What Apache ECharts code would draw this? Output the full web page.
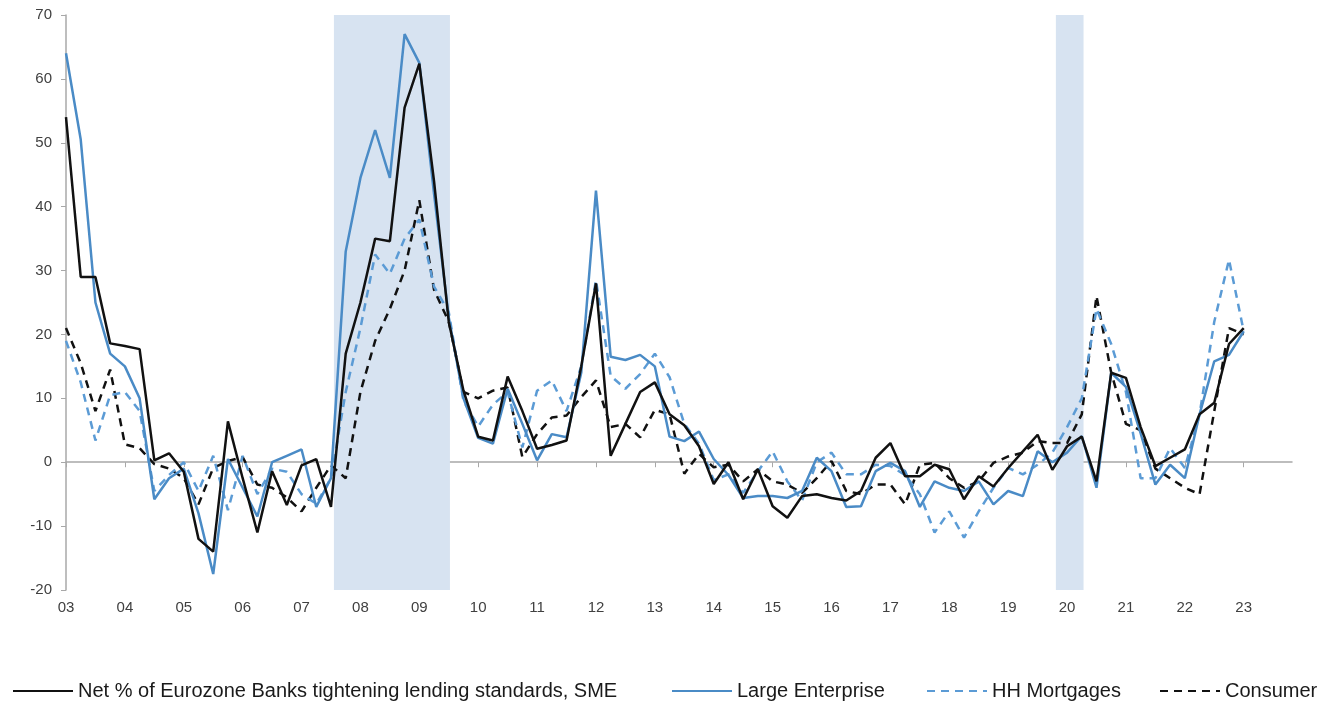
<!DOCTYPE html>
<html>
<head>
<meta charset="utf-8">
<script src="https://cdn.jsdelivr.net/npm/echarts@6/dist/echarts.min.js"></script>
<style>
  html, body { margin: 0; padding: 0; background: #fff; }
  #chart { width: 1328px; height: 705px; }
</style>
</head>
<body>
<div id="chart"></div>
<script>
// Quarterly survey results, 2003 Q1 onwards (net % of banks tightening)
const startYear = 2003;

const sme = [
  54, 29, 29, 18.6, 18.2, 17.7, 0.3, 1.4, -1.5, -12,
  -14, 6.4, -2.5, -11, -1.4, -6.7, -0.5, 0.5, -7, 17,
  25, 35, 34.6, 55.5, 62.4, 44, 22, 11.2, 4, 3.4,
  13.4, 8, 2.1, 2.7, 3.4, 15, 28, 1, 6, 11,
  12.5, 7.5, 5.8, 2.5, -3.4, 0, -5.8, -1.1, -6.9, -8.7,
  -5.3, -5, -5.6, -6, -4.5, 0.7, 3, -2.2, -2.2, -0.4,
  -1.1, -5.8, -2.2, -3.8, -0.9, 1.7, 4.3, -1.2, 2.5, 4,
  -3, 14, 13.2, 5.5, -0.6, 0.7, 2, 7.5, 9.3, 18.5,
  21
];

const largeEnterprise = [
  64, 50.5, 25, 17, 15, 10, -5.8, -2.5, -1, -8,
  -17.5, 0.5, -4, -8.5, 0, 1, 2, -7, -2.5, 33,
  44.5, 52, 44.5, 67, 62.5, 42, 22.7, 10, 3.8, 2.9,
  11.5, 6, 0.3, 4.4, 3.9, 14, 42.5, 16.5, 16, 16.8,
  15, 4, 3.3, 4.8, 0.5, -2, -5.6, -5.3, -5.3, -5.6,
  -4.5, 0.7, -1.4, -7, -6.9, -1.4, -0.1, -1.4, -7, -3,
  -4, -4.5, -3, -6.6, -4.5, -5.3, 1.7, 0, 1.5, 4.1,
  -4, 14, 11.8, 4.5, -3.5, -0.4, -2.5, 7.5, 15.8, 16.8,
  20.5
];

const hhMortgages = [
  19, 12.5, 3.4, 10.5, 11, 8, -4.5, -2, 0, -4.5,
  1, -7.5, 1, -5, -1, -1.5, -5, -6.5, -2.5, 11,
  21, 32.5, 29.5, 35, 38, 27.5, 23.5, 9.6, 5.6, 9,
  11, 2.3, 11.2, 12.8, 8, 15, 28.5, 13.5, 11.5, 13.8,
  17, 13.3, 6, 2.9, -2.8, -1.9, -4.8, -1.4, 1.7, -3,
  -6, 0, 1.5, -1.9, -1.9, -0.4, -0.6, -2, -5, -11,
  -7.7, -11.8, -7.7, -4, -0.9, -1.9, -0.4, 1.5, 5.5, 10,
  24, 18.5, 11, -2.5, -2.5, 2.2, -0.9, 7.5, 22, 31.7,
  20.5
];

const consumer = [
  21, 15.5, 8, 14.5, 2.8, 2.2, -0.3, -1, -2.5, -6.6,
  -0.9, 0.2, 0.8, -3.5, -4, -5.5, -7.7, -4, -0.5, -2.5,
  11, 19, 24, 30, 41, 27, 22, 11, 10, 11.2,
  11.7, 0.8, 4.4, 7, 7.3, 10.2, 12.8, 5.5, 6, 3.9,
  8.2, 7.5, -1.8, 1.3, -0.8, -0.4, -3, -1.1, -3, -3.5,
  -4.8, -2.5, 0.2, -4.5, -5, -3.5, -3.5, -6.6, -0.4, -0.1,
  -2.5, -4, -3, -0.1, 0.9, 1.5, 3.3, 3, 3, 7.5,
  26, 14, 6, 5, -1, -2.5, -4, -5, 8, 21,
  20
];

// Year ticks along the time axis and their two-digit labels
const tickYears = [2003, 2004, 2005, 2006, 2007, 2008, 2009, 2010, 2011, 2012, 2013,
                   2014, 2015, 2016, 2017, 2018, 2019, 2020, 2021, 2022, 2023];
const tickLabels = ['03', '04', '05', '06', '07', '08', '09', '10', '11', '12', '13',
                    '14', '15', '16', '17', '18', '19', '20', '21', '22', '23'];

// Shaded periods (start, end) in fractional years
const shadedPeriods = [[2007.55, 2009.52], [2019.81, 2020.28]];

const seriesNames = [
  'Net % of Eurozone Banks tightening lending standards, SME',
  'Large Enterprise',
  'HH Mortgages',
  'Consumer'
];

function toPoints(values) {
  return values.map((v, i) => [startYear + i / 4, v]);
}

const BLACK = '#111111';
const BLUE = '#4a8bc6';
const LIGHT_BLUE = '#5b9bd5';

const chart = echarts.init(document.getElementById('chart'), null, { renderer: 'canvas' });

const xMin = 2003, xMax = 2023.82;

const legendBase = {
  top: 681,
  padding: 0,
  itemWidth: 60,
  itemHeight: 14,
  itemGap: 0,
  itemStyle: { opacity: 0 },
  textStyle: { fontFamily: 'Liberation Sans, Arial, sans-serif', fontSize: 20, color: '#1a1a1a' },
  selectedMode: false
};

chart.setOption({
  animation: false,
  backgroundColor: '#ffffff',
  grid: { left: 66, right: 36, top: 15, bottom: 115, containLabel: false },
  legend: [
    Object.assign({}, legendBase, { left: 12, data: [seriesNames[0]] }),
    Object.assign({}, legendBase, { left: 671, data: [seriesNames[1]] }),
    Object.assign({}, legendBase, { left: 926, data: [seriesNames[2]] }),
    Object.assign({}, legendBase, { left: 1159, data: [seriesNames[3]] })
  ],
  xAxis: [
    {
      // zero line with yearly ticks
      type: 'value', min: xMin, max: xMax, interval: 1, position: 'bottom',
      axisLine: { show: true, onZero: true, lineStyle: { color: '#a8a8a8', width: 1.5 } },
      axisTick: { show: true, length: 5, customValues: tickYears, lineStyle: { color: '#a8a8a8', width: 1 } },
      axisLabel: { show: false },
      splitLine: { show: false }
    },
    {
      // year labels along the bottom
      type: 'value', min: xMin, max: xMax, interval: 1, position: 'bottom',
      axisLine: { show: false, onZero: false },
      axisTick: { show: false },
      axisLabel: {
        show: true, margin: 10, customValues: tickYears,
        formatter: v => tickLabels[tickYears.indexOf(Math.round(v))] || '',
        fontFamily: 'Liberation Sans, Arial, sans-serif', fontSize: 15, color: '#404040'
      },
      splitLine: { show: false }
    }
  ],
  yAxis: {
    type: 'value', min: -20, max: 70, interval: 10,
    axisLine: { show: true, lineStyle: { color: '#a8a8a8', width: 1.5 } },
    axisTick: { show: true, inside: false, length: 5, lineStyle: { color: '#a8a8a8' } },
    axisLabel: { margin: 14, fontFamily: 'Liberation Sans, Arial, sans-serif', fontSize: 15, color: '#404040' },
    splitLine: { show: false }
  },
  series: [
    {
      name: seriesNames[3], type: 'line', data: toPoints(consumer), showSymbol: false, symbol: 'none',
      lineStyle: { color: BLACK, width: 2.5, type: [8, 6] }, itemStyle: { color: BLACK }, z: 3,
      markArea: {
        silent: true,
        itemStyle: { color: '#d7e3f1' },
        data: shadedPeriods.map(p => [{ xAxis: p[0] }, { xAxis: p[1] }])
      }
    },
    {
      name: seriesNames[2], type: 'line', data: toPoints(hhMortgages), showSymbol: false, symbol: 'none',
      lineStyle: { color: LIGHT_BLUE, width: 2.5, type: [8, 6] }, itemStyle: { color: LIGHT_BLUE }, z: 4
    },
    {
      name: seriesNames[1], type: 'line', data: toPoints(largeEnterprise), showSymbol: false, symbol: 'none',
      lineStyle: { color: BLUE, width: 2.5 }, itemStyle: { color: BLUE }, z: 5
    },
    {
      name: seriesNames[0], type: 'line', data: toPoints(sme), showSymbol: false, symbol: 'none',
      lineStyle: { color: BLACK, width: 2.5 }, itemStyle: { color: BLACK }, z: 6
    }
  ]
});
</script>
</body>
</html>
